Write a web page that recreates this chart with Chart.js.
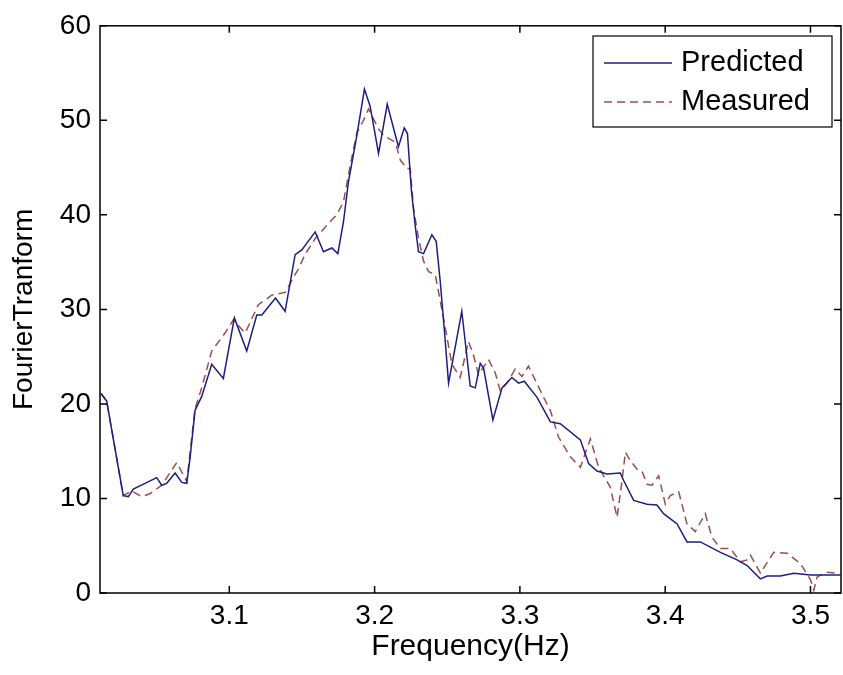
<!DOCTYPE html>
<html>
<head>
<meta charset="utf-8">
<script src="https://cdn.jsdelivr.net/npm/chart.js@4/dist/chart.umd.min.js"></script>
<style>
  body { margin: 0; background: #fff; }
  #wrap { width: 843px; height: 675px; }
</style>
</head>
<body>
<div id="wrap"><canvas id="grafico" width="843" height="675"></canvas></div>
<script>
// frequencies (Hz) and amplitudes
const predFreq = [3.0117, 3.0156, 3.0270, 3.0305, 3.0339, 3.0420, 3.0500, 3.0535, 3.0569, 3.0627,
  3.0673, 3.0707, 3.0730, 3.0764, 3.0810, 3.0879, 3.0959, 3.1035, 3.1120, 3.1189,
  3.1224, 3.1318, 3.1384, 3.1453, 3.1499, 3.1591, 3.1648, 3.1706, 3.1747, 3.1786,
  3.1820, 3.1878, 3.1930, 3.1969, 3.2027, 3.2087, 3.2164, 3.2204, 3.2226, 3.2252,
  3.2279, 3.2302, 3.2337, 3.2394, 3.2424, 3.2452, 3.2479, 3.2509, 3.2600, 3.2658,
  3.2693, 3.2727, 3.2750, 3.2814, 3.2877, 3.2945, 3.2991, 3.3030, 3.3118, 3.3210,
  3.3278, 3.3416, 3.3473, 3.3531, 3.3600, 3.3691, 3.3714, 3.3783, 3.3875, 3.3943,
  3.3989, 3.4082, 3.4150, 3.4242, 3.4380, 3.4495, 3.4564, 3.4655, 3.4702, 3.4793,
  3.4885, 3.5000, 3.5160, 3.5206];
const predVal = [21.1, 20.3, 10.3, 10.2, 11.0, 11.6, 12.2, 11.4, 11.6, 12.7,
  11.7, 11.6, 14.3, 19.3, 20.8, 24.2, 22.7, 29.1, 25.6, 29.4,
  29.4, 31.2, 29.8, 35.8, 36.3, 38.2, 36.1, 36.5, 35.9, 39.3,
  43.5, 48.4, 53.3, 51.5, 46.5, 51.7, 47.2, 49.2, 48.6, 42.8,
  38.9, 36.1, 35.9, 37.9, 37.2, 32.9, 28.0, 22.2, 29.8, 21.9,
  21.7, 24.3, 23.8, 18.3, 21.7, 22.8, 22.2, 22.4, 20.7, 18.1,
  17.9, 16.2, 13.7, 12.9, 12.6, 12.7, 11.9, 9.8, 9.4, 9.3,
  8.4, 7.3, 5.4, 5.4, 4.3, 3.5, 2.9, 1.5, 1.8, 1.8,
  2.1, 1.9, 1.9, 1.9];

const measFreq = [3.0117, 3.0156, 3.0270, 3.0328, 3.0397, 3.0454, 3.0535, 3.0638, 3.0707, 3.0764,
  3.0810, 3.0879, 3.0971, 3.1028, 3.1109, 3.1200, 3.1292, 3.1384, 3.1476, 3.1521,
  3.1591, 3.1682, 3.1740, 3.1786, 3.1832, 3.1878, 3.1923, 3.1958, 3.2027, 3.2062,
  3.2142, 3.2177, 3.2223, 3.2245, 3.2268, 3.2302, 3.2337, 3.2371, 3.2417, 3.2474,
  3.2532, 3.2589, 3.2646, 3.2680, 3.2715, 3.2784, 3.2830, 3.2865, 3.2911, 3.2968,
  3.3014, 3.3059, 3.3163, 3.3210, 3.3266, 3.3347, 3.3416, 3.3485, 3.3542, 3.3622,
  3.3669, 3.3703, 3.3726, 3.3760, 3.3806, 3.3840, 3.3875, 3.3909, 3.3955, 3.4001,
  3.4035, 3.4093, 3.4150, 3.4207, 3.4276, 3.4322, 3.4380, 3.4449, 3.4483, 3.4518,
  3.4564, 3.4587, 3.4655, 3.4747, 3.4839, 3.4931, 3.5000, 3.5023, 3.5046, 3.5115,
  3.5184];
const measVal = [21.1, 20.3, 10.3, 10.8, 10.2, 10.5, 11.4, 13.8, 11.8, 19.5,
  21.7, 25.6, 27.5, 28.9, 27.5, 30.5, 31.5, 31.8, 34.3, 35.8,
  37.5, 39.1, 40.0, 41.4, 45.2, 48.7, 50.0, 51.2, 49.1, 48.4,
  47.7, 45.8, 44.9, 44.9, 40.7, 37.5, 35.1, 34.0, 33.7, 29.1,
  24.2, 22.8, 26.6, 25.2, 23.1, 24.7, 23.3, 21.4, 22.2, 23.7,
  22.9, 24.0, 20.7, 19.3, 16.5, 14.4, 13.3, 16.3, 13.3, 11.2,
  8.0, 11.9, 14.9, 14.0, 13.1, 12.9, 11.5, 11.4, 12.4, 9.4,
  10.3, 10.7, 7.3, 6.5, 8.4, 5.9, 4.7, 4.7, 4.0, 3.3,
  3.5, 4.0, 2.1, 4.3, 4.2, 3.1, 1.4, 0.3, 1.7, 2.2,
  2.1];

const xTicks = [3.1, 3.2, 3.3, 3.4, 3.5];
const yTicks = [0, 10, 20, 30, 40, 50, 60];

const FONT = 'Arial, "Liberation Sans", sans-serif';

// MATLAB-style box with inward ticks, plus legend in the top-right corner
const moldura = {
  id: 'moldura',
  afterDraw(chart) {
    const { ctx, chartArea: a, scales: { x, y } } = chart;
    ctx.save();
    ctx.strokeStyle = '#000';
    ctx.lineWidth = 1.5;
    ctx.strokeRect(a.left, a.top, a.right - a.left, a.bottom - a.top);
    ctx.beginPath();
    x.ticks.forEach(t => {
      const px = x.getPixelForValue(t.value);
      ctx.moveTo(px, a.bottom); ctx.lineTo(px, a.bottom - 7);
      ctx.moveTo(px, a.top); ctx.lineTo(px, a.top + 7);
    });
    y.ticks.forEach(t => {
      const py = y.getPixelForValue(t.value);
      ctx.moveTo(a.left, py); ctx.lineTo(a.left + 7, py);
      ctx.moveTo(a.right, py); ctx.lineTo(a.right - 7, py);
    });
    ctx.stroke();

    // legend
    const bx = 593, by = 36, bw = 239, bh = 91;
    ctx.fillStyle = '#fff';
    ctx.fillRect(bx, by, bw, bh);
    ctx.lineWidth = 1.2;
    ctx.strokeRect(bx, by, bw, bh);
    ctx.font = '29px ' + FONT;
    ctx.textBaseline = 'middle';
    chart.data.datasets.forEach((ds, i) => {
      const cy = by + 27 + i * 39;
      ctx.strokeStyle = ds.borderColor;
      ctx.lineWidth = ds.borderWidth;
      ctx.setLineDash(ds.borderDash || []);
      ctx.beginPath();
      ctx.moveTo(bx + 11, cy); ctx.lineTo(bx + 79, cy);
      ctx.stroke();
      ctx.setLineDash([]);
      ctx.fillStyle = '#000';
      ctx.fillText(ds.label, bx + 88, cy);
    });
    ctx.restore();
  }
};

new Chart(document.getElementById('grafico').getContext('2d'), {
  type: 'line',
  data: {
    datasets: [
      {
        label: 'Predicted',
        data: predFreq.map((f, i) => ({ x: f, y: predVal[i] })),
        borderColor: '#1e1e80',
        borderWidth: 1.5,
        pointRadius: 0,
        tension: 0,
        fill: false
      },
      {
        label: 'Measured',
        data: measFreq.map((f, i) => ({ x: f, y: measVal[i] })),
        borderColor: '#9a4f4f',
        borderWidth: 1.5,
        borderDash: [8, 5],
        pointRadius: 0,
        tension: 0,
        fill: false
      }
    ]
  },
  options: {
    responsive: false,
    animation: false,
    layout: { padding: { left: 0, top: 24, right: 2, bottom: 0 } },
    plugins: { legend: { display: false }, tooltip: { enabled: false } },
    scales: {
      x: {
        type: 'linear',
        min: 3.011,
        max: 3.521,
        afterBuildTicks: s => { s.ticks = xTicks.map(v => ({ value: v })); },
        afterFit: s => { s.height = 82; },
        grid: { display: false, drawTicks: false },
        border: { display: false },
        ticks: {
          color: '#000',
          font: { family: FONT, size: 28 },
          padding: 6,
          maxRotation: 0,
          callback: v => v.toFixed(1)
        },
        title: {
          display: true,
          text: 'Frequency(Hz)',
          color: '#000',
          font: { family: FONT, size: 30 },
          padding: { top: 0, bottom: 10 }
        }
      },
      y: {
        min: 0,
        max: 60,
        afterBuildTicks: s => { s.ticks = yTicks.map(v => ({ value: v })); },
        afterFit: s => { s.width = 100; },
        grid: { display: false, drawTicks: false },
        border: { display: false },
        ticks: {
          color: '#000',
          font: { family: FONT, size: 28 },
          padding: 9
        },
        title: {
          display: true,
          text: 'FourierTranform',
          color: '#000',
          font: { family: FONT, size: 28 },
          padding: { top: 7, bottom: 0 }
        }
      }
    }
  },
  plugins: [moldura]
});
</script>
</body>
</html>
